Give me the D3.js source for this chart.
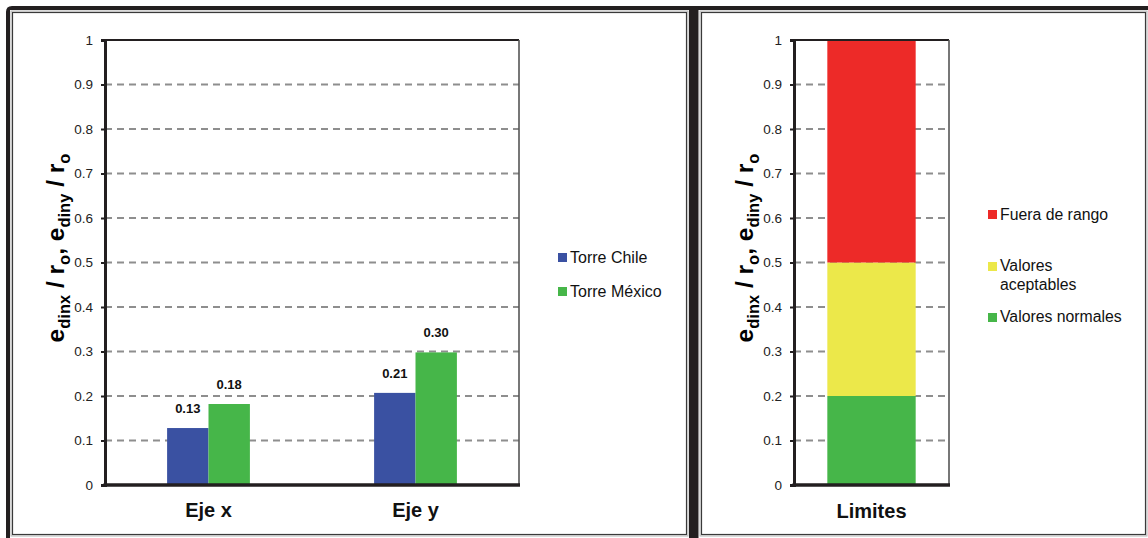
<!DOCTYPE html>
<html>
<head>
<meta charset="utf-8">
<script src="https://cdn.jsdelivr.net/npm/d3@7"></script>
<style>
  html, body { margin: 0; padding: 0; background: #fff; }
  svg { display: block; font-family: "Liberation Sans", Arial, sans-serif; }
</style>
</head>
<body>
<svg id="chart" width="1148" height="538"></svg>
<script>
// ---- data ----
const categories = ["Eje x", "Eje y"];
const seriesNames = ["Torre Chile", "Torre México"];
const torreChile = [0.128, 0.207];
const torreMexico = [0.182, 0.298];
const valueLabels = [["0.13", "0.21"], ["0.18", "0.30"]];
const limitCategory = ["Limites"];
const limitNames = ["Valores normales", "Valores aceptables", "Fuera de rango"];
const limitBounds = [[0, 0.2], [0.2, 0.5], [0.5, 1]];
const tickValues = [0, 0.1, 0.2, 0.3, 0.4, 0.5, 0.6, 0.7, 0.8, 0.9, 1];
const tickLabels = ["0", "0.1", "0.2", "0.3", "0.4", "0.5", "0.6", "0.7", "0.8", "0.9", "1"];

const colors = { chile: "#3A51A2", mexico: "#46B649", normal: "#46B649", acept: "#ECE84A", fuera: "#ED2A28" };
const svg = d3.select("#chart");
const dark = "#231F20";

// ---- frames ----
function panelFrame(x0, x1, y0, y1) {
  svg.append("rect").attr("x", x0 - 1).attr("y", y0 - 1).attr("width", x1 - x0 + 2).attr("height", y1 - y0 + 2)
    .attr("fill", "none").attr("stroke", "#b5b5b5").attr("stroke-width", 1);
  svg.append("rect").attr("x", x0 + 0.5).attr("y", y0 + 0.5).attr("width", x1 - x0 - 1).attr("height", y1 - y0 - 1)
    .attr("fill", "none").attr("stroke", "#3a3a3a").attr("stroke-width", 1.2);
}
panelFrame(12, 687, 12, 535);
panelFrame(701, 1146, 12, 535);
// thick dark bands (top, left, divider)
svg.append("path").attr("d", "M6,538 L6,12 Q6,6 12,6 L1148,6 L1148,10 L10,10 L10,538 Z").attr("fill", dark);
svg.append("rect").attr("x", 689).attr("y", 6).attr("width", 9.5).attr("height", 532).attr("fill", dark);

function yTitle(g, x, y) {
  const t = g.append("text").attr("transform", `translate(${x},${y}) rotate(-90)`)
    .attr("text-anchor", "middle").attr("font-weight", "bold").attr("font-size", 24.5).attr("fill", "#000");
  const parts = [["e", 0], ["dinx", 1], [" / r", 0], ["o", 1], [", e", 0], ["diny", 1], [" / r", 0], ["o", 1]];
  let prevSub = 0;
  parts.forEach(([s, sub]) => {
    const ts = t.append("tspan").text(s);
    if (sub) ts.attr("font-size", 16.5);
    const dy = (sub ? 6 : 0) - (prevSub ? 6 : 0);
    if (dy) ts.attr("dy", dy);
    prevSub = sub;
  });
}

function drawGrid(g, y, xl, xr) {
  g.append("g").selectAll("line").data(tickValues.filter(v => v > 0 && v < 1)).join("line")
    .attr("x1", xl).attr("x2", xr).attr("y1", d => y(d)).attr("y2", d => y(d))
    .attr("stroke", "#8E8E8E").attr("stroke-width", 2).attr("stroke-dasharray", "7,5");
}

function drawFrameAxes(g, y, xl, xr, yTop, yBot) {
  g.append("line").attr("x1", xl).attr("x2", xr).attr("y1", yTop).attr("y2", yTop).attr("stroke", dark).attr("stroke-width", 2);
  g.append("line").attr("x1", xr).attr("x2", xr).attr("y1", yTop).attr("y2", yBot).attr("stroke", "#555").attr("stroke-width", 1.6);
  const ax = g.append("g").attr("transform", `translate(${xl},0)`)
    .call(d3.axisLeft(y).tickValues(tickValues).tickFormat((d, i) => tickLabels[i]).tickSize(4).tickPadding(8));
  ax.attr("font-size", 13.5).attr("font-family", "Liberation Sans, Arial, sans-serif");
  ax.select(".domain").attr("stroke", dark).attr("stroke-width", 3);
  ax.selectAll(".tick line").attr("stroke", dark).attr("stroke-width", 2);
  ax.selectAll(".tick text").attr("fill", "#222");
  g.append("line").attr("x1", xl - 1.5).attr("x2", xr + 1).attr("y1", yBot).attr("y2", yBot).attr("stroke", dark).attr("stroke-width", 3.5);
}

// ---- left chart ----
{
  const xl = 105, xr = 519, yTop = 40, yBot = 485;
  const g = svg.append("g");
  const y = d3.scaleLinear().domain([0, 1]).range([yBot, yTop]);
  const x0 = d3.scaleBand().domain(categories).range([xl, xr]);
  const x1 = d3.scaleBand().domain(seriesNames).range([0, x0.bandwidth()]).paddingInner(0).paddingOuter(1.5);
  drawGrid(g, y, xl, xr);
  const series = [torreChile, torreMexico];
  const cols = [colors.chile, colors.mexico];
  series.forEach((vals, si) => {
    g.append("g").selectAll("rect").data(vals).join("rect")
      .attr("x", (d, i) => x0(categories[i]) + x1(seriesNames[si]))
      .attr("width", x1.bandwidth())
      .attr("y", d => y(d)).attr("height", d => y(0) - y(d))
      .attr("fill", cols[si]);
    g.append("g").selectAll("text").data(vals).join("text")
      .attr("x", (d, i) => x0(categories[i]) + x1(seriesNames[si]) + x1.bandwidth() / 2)
      .attr("y", d => y(d) - 15)
      .attr("text-anchor", "middle").attr("font-weight", "bold").attr("font-size", 13).attr("fill", "#111")
      .text((d, i) => valueLabels[si][i]);
  });
  drawFrameAxes(g, y, xl, xr, yTop, yBot);
  g.append("g").selectAll("text").data(categories).join("text")
    .attr("x", d => x0(d) + x0.bandwidth() / 2).attr("y", 517)
    .attr("text-anchor", "middle").attr("font-weight", "bold").attr("font-size", 20).attr("fill", "#111").text(d => d);
  yTitle(g, 64, 248);
  const leg = g.append("g");
  seriesNames.forEach((n, i) => {
    leg.append("rect").attr("x", 558).attr("y", 253 + i * 34).attr("width", 9).attr("height", 9).attr("fill", cols[i]);
    leg.append("text").attr("x", 570).attr("y", 263 + i * 34).attr("font-size", 16).attr("fill", "#111").text(n);
  });
}

// ---- right chart ----
{
  const xl = 794, xr = 949, yTop = 40, yBot = 485;
  const g = svg.append("g");
  const y = d3.scaleLinear().domain([0, 1]).range([yBot, yTop]);
  const x = d3.scaleBand().domain(limitCategory).range([xl, xr]).paddingInner(0.43).paddingOuter(0.215);
  drawGrid(g, y, xl, xr);
  const cols = [colors.normal, colors.acept, colors.fuera];
  g.append("g").selectAll("rect").data(limitBounds).join("rect")
    .attr("x", x(limitCategory[0])).attr("width", x.bandwidth())
    .attr("y", d => y(d[1])).attr("height", d => y(d[0]) - y(d[1]))
    .attr("fill", (d, i) => cols[i]);
  drawFrameAxes(g, y, xl, xr, yTop, yBot);
  g.append("text").attr("x", x(limitCategory[0]) + x.bandwidth() / 2).attr("y", 518)
    .attr("text-anchor", "middle").attr("font-weight", "bold").attr("font-size", 20).attr("fill", "#111").text(limitCategory[0]);
  yTitle(g, 753, 248);
  const leg = g.append("g");
  const items = [
    { c: cols[2], lines: ["Fuera de rango"], sy: 210, by: 220 },
    { c: cols[1], lines: ["Valores", "aceptables"], sy: 262, by: 271 },
    { c: cols[0], lines: [limitNames[0]], sy: 313, by: 322 }
  ];
  items.forEach(it => {
    leg.append("rect").attr("x", 988).attr("y", it.sy).attr("width", 9).attr("height", 9).attr("fill", it.c);
    it.lines.forEach((l, k) => {
      leg.append("text").attr("x", 1000).attr("y", it.by + k * 18.5).attr("font-size", 15.8).attr("fill", "#111").text(l);
    });
  });
}
</script>
</body>
</html>
